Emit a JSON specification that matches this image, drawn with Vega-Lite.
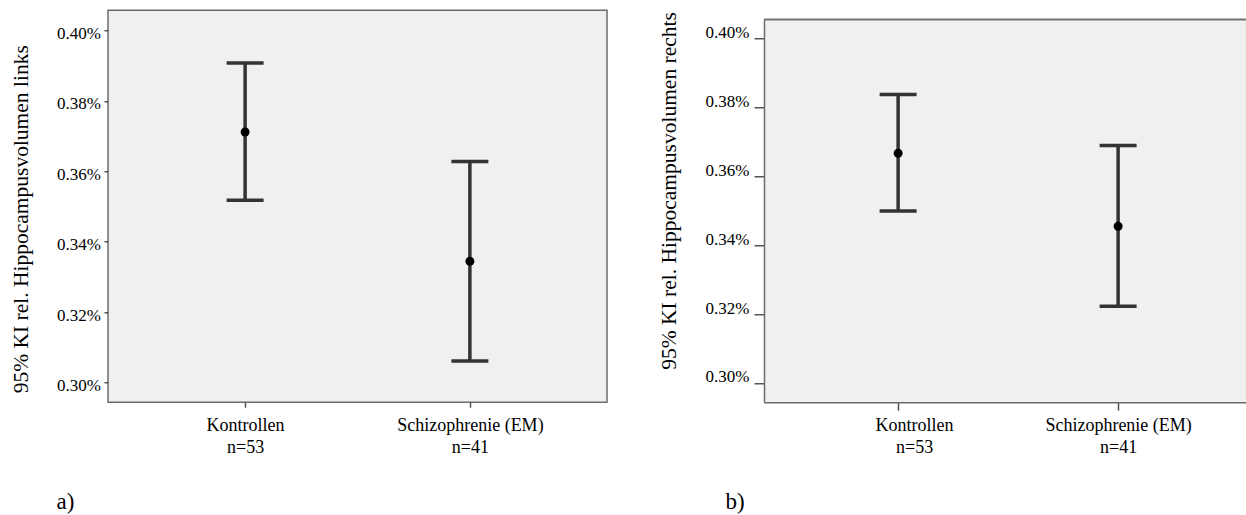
{
  "$schema": "https://vega.github.io/schema/vega-lite/v6.json",
  "background": "white",
  "padding": {"left": 10, "top": 9.25, "right": 0, "bottom": 0},
  "spacing": 50,
  "align": "none",
  "datasets": {
    "links": [
      {"gruppe": "Kontrollen\nn=53", "mittel": 0.0037119, "lo": 0.0035179, "hi": 0.003908},
      {"gruppe": "Schizophrenie (EM)\nn=41", "mittel": 0.0033446, "lo": 0.0030614, "hi": 0.0036278}
    ],
    "rechts": [
      {"gruppe": "Kontrollen\nn=53", "mittel": 0.003667, "lo": 0.0034994, "hi": 0.0038374},
      {"gruppe": "Schizophrenie (EM)\nn=41", "mittel": 0.003455, "lo": 0.0032227, "hi": 0.0036893}
    ]
  },
  "hconcat": [
    {
      "width": 499,
      "height": 392,
      "view": {"stroke": "#6b6b6b", "strokeWidth": 1.5, "fill": "#f0f0f0"},
      "data": {"name": "links"},
      "layer": [
        {
          "mark": {"type": "rule", "color": "#333333", "strokeWidth": 3.5, "opacity": 1},
          "encoding": {
            "x": {
              "field": "gruppe", "type": "nominal", "sort": null,
              "scale": {"type": "point", "padding": 0.61},
              "axis": {
                "title": "a)", "titleX": -52, "titleY": 106.5, "titleAlign": "left", "titleBaseline": "alphabetic",
                "titleFont": "Liberation Serif", "titleFontSize": 23, "titleFontWeight": "normal",
                "labelFont": "Liberation Serif", "labelFontSize": 18,
                "labelAngle": 0, "labelExpr": "split(datum.value, '\\n')", "labelLineHeight": 22,
                "labelPadding": 9, "tickSize": 5, "domain": false
              }
            },
            "y": {
              "field": "lo", "type": "quantitative", "title": "95% KI rel. Hippocampusvolumen links",
              "scale": {"domain": [0.002944, 0.0040577], "nice": false, "zero": false},
              "axis": {
                "values": [0.003, 0.0032, 0.0034, 0.0036, 0.0038, 0.004], "format": ".2%",
                "labelFont": "Liberation Serif", "labelFontSize": 17,
                "titleFont": "Liberation Serif", "titleFontSize": 21.5, "titleFontWeight": "normal",
                "tickSize": 4, "labelPadding": 3.5, "labelOffset": 3, "domain": false, "grid": false,
                "titleX": -80.2, "titleY": 208.5, "titleBaseline": "alphabetic"
              }
            },
            "y2": {"field": "hi"}
          }
        },
        {
          "mark": {"type": "tick", "color": "#333333", "size": 37, "thickness": 3.5, "opacity": 1},
          "encoding": {
            "x": {"field": "gruppe", "type": "nominal", "sort": null},
            "y": {"field": "lo", "type": "quantitative", "title": "95% KI rel. Hippocampusvolumen links"}
          }
        },
        {
          "mark": {"type": "tick", "color": "#333333", "size": 37, "thickness": 3.5, "opacity": 1},
          "encoding": {
            "x": {"field": "gruppe", "type": "nominal", "sort": null},
            "y": {"field": "hi", "type": "quantitative", "title": "95% KI rel. Hippocampusvolumen links"}
          }
        },
        {
          "mark": {"type": "point", "filled": true, "color": "black", "size": 80, "opacity": 1},
          "encoding": {
            "x": {"field": "gruppe", "type": "nominal", "sort": null},
            "y": {"field": "mittel", "type": "quantitative", "title": "95% KI rel. Hippocampusvolumen links"}
          }
        }
      ]
    },
    {
      "width": 484,
      "height": 392,
      "view": {"stroke": null, "fill": null},
      "data": {"name": "rechts"},
      "layer": [
        {
          "mark": {"type": "rect", "color": "#f0f0f0", "opacity": 1},
          "encoding": {
            "y": {"datum": 0.002944, "type": "quantitative"},
            "y2": {"datum": 0.0040552}
          }
        },
        {
          "mark": {"type": "rule", "color": "#6b6b6b", "strokeWidth": 1.5},
          "encoding": {"y": {"datum": 0.0040552, "type": "quantitative"}}
        },
        {
          "mark": {"type": "rule", "color": "#333333", "strokeWidth": 3.5, "opacity": 1},
          "encoding": {
            "x": {
              "field": "gruppe", "type": "nominal", "sort": null,
              "scale": {"type": "point", "padding": 0.6, "align": 0.508},
              "axis": {
                "title": "b)", "titleX": -39, "titleY": 106.5, "titleAlign": "left", "titleBaseline": "alphabetic",
                "titleFont": "Liberation Serif", "titleFontSize": 23, "titleFontWeight": "normal",
                "labelFont": "Liberation Serif", "labelFontSize": 18,
                "labelAngle": 0, "labelExpr": "split(datum.value, '\\n')", "labelLineHeight": 22,
                "labelOffset": {"condition": {"test": "indexof(datum.value, 'Kontrollen') >= 0", "value": 16}, "value": 0},
                "labelPadding": 6, "tickSize": 8, "domain": true, "zindex": 1
              }
            },
            "y": {
              "field": "lo", "type": "quantitative", "title": "95% KI rel. Hippocampusvolumen rechts",
              "scale": {"domain": [0.002944, 0.0040552], "range": [392, 9.3], "nice": false, "zero": false},
              "axis": {
                "values": [0.003, 0.0032, 0.0034, 0.0036, 0.0038, 0.004], "format": ".2%",
                "labelFont": "Liberation Serif", "labelFontSize": 17,
                "titleFont": "Liberation Serif", "titleFontSize": 21.5, "titleFontWeight": "normal",
                "tickSize": 10, "labelPadding": 5, "labelOffset": -6, "domain": true, "grid": false, "zindex": 1,
                "titleX": -88.5, "titleY": 180.2, "titleBaseline": "alphabetic"
              }
            },
            "y2": {"field": "hi"}
          }
        },
        {
          "mark": {"type": "tick", "color": "#333333", "size": 37, "thickness": 3.5, "opacity": 1},
          "encoding": {
            "x": {"field": "gruppe", "type": "nominal", "sort": null},
            "y": {"field": "lo", "type": "quantitative", "title": "95% KI rel. Hippocampusvolumen rechts"}
          }
        },
        {
          "mark": {"type": "tick", "color": "#333333", "size": 37, "thickness": 3.5, "opacity": 1},
          "encoding": {
            "x": {"field": "gruppe", "type": "nominal", "sort": null},
            "y": {"field": "hi", "type": "quantitative", "title": "95% KI rel. Hippocampusvolumen rechts"}
          }
        },
        {
          "mark": {"type": "point", "filled": true, "color": "black", "size": 80, "opacity": 1},
          "encoding": {
            "x": {"field": "gruppe", "type": "nominal", "sort": null},
            "y": {"field": "mittel", "type": "quantitative", "title": "95% KI rel. Hippocampusvolumen rechts"}
          }
        }
      ]
    }
  ],
  "config": {
    "font": "Liberation Serif",
    "style": {"guide-label": {"font": "Liberation Serif", "fill": "black"}, "guide-title": {"font": "Liberation Serif", "fill": "black"}},
    "axis": {
      "labelFont": "Liberation Serif", "labelFontSize": 17, "labelColor": "black",
      "titleFont": "Liberation Serif", "titleFontSize": 21.5, "titleFontWeight": "normal", "titleColor": "black",
      "tickColor": "#555555", "tickWidth": 1.5, "domainColor": "#6b6b6b", "domainWidth": 1.5
    }
  }
}
